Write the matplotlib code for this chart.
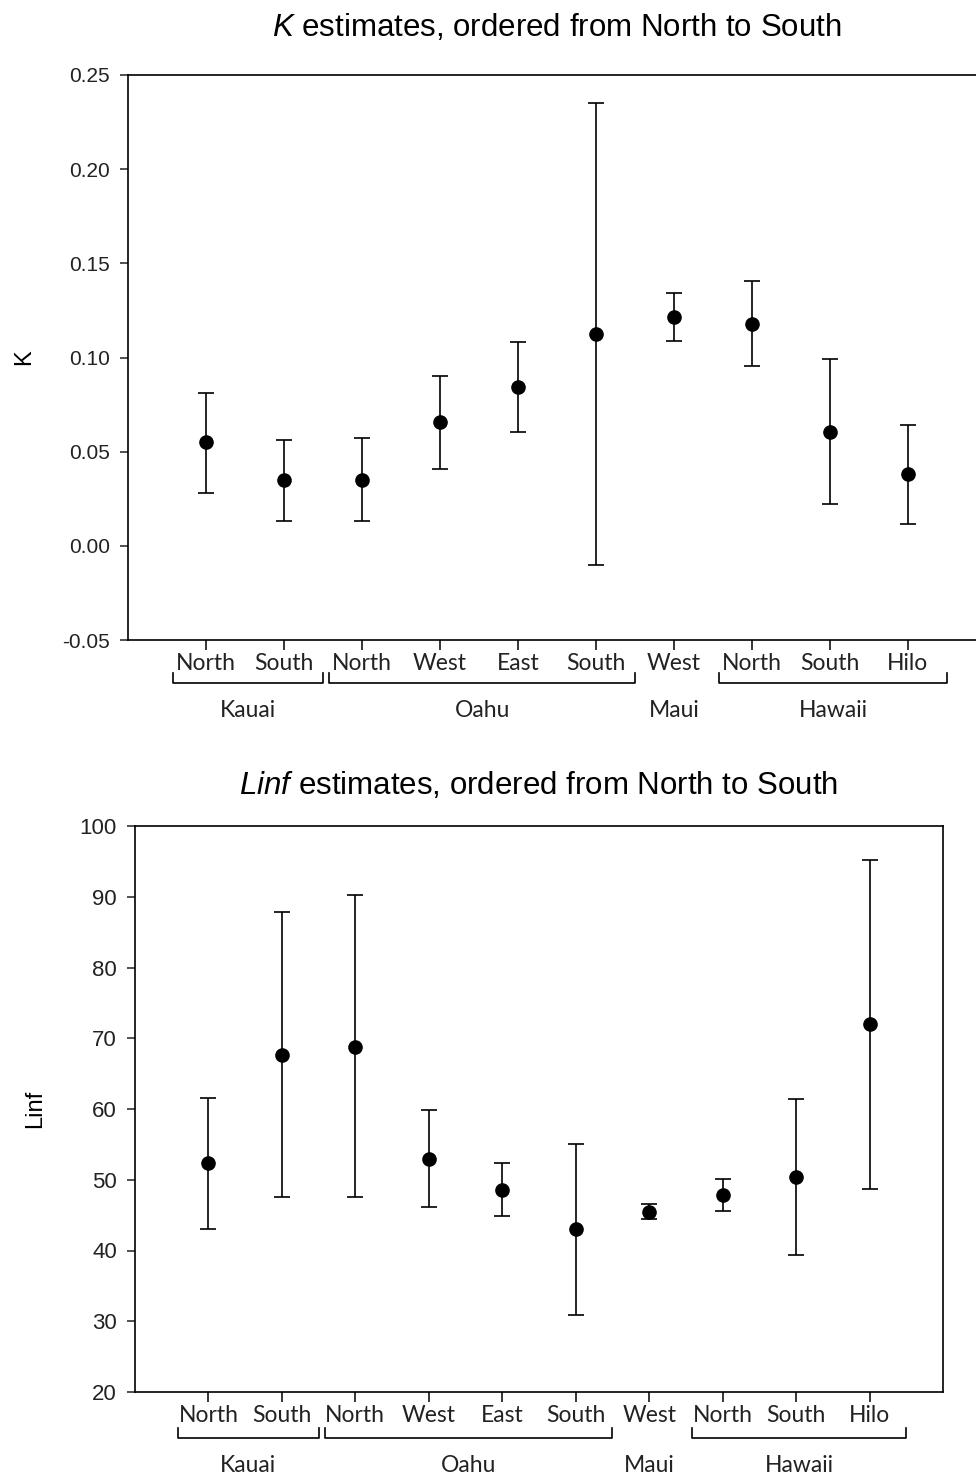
import matplotlib
matplotlib.use("Agg")
import matplotlib.pyplot as plt
import matplotlib.transforms as mtransforms

plt.rcParams['font.family'] = ['Liberation Sans', 'DejaVu Sans']
plt.rcParams['mathtext.fontset'] = 'custom'
plt.rcParams['mathtext.rm'] = 'Liberation Sans'
plt.rcParams['mathtext.it'] = 'Liberation Sans:italic'

# sites, ordered from north to south
sites = ['North', 'South', 'North', 'West', 'East', 'South', 'West', 'North', 'South', 'Hilo']
islands = ['Kauai', 'Kauai', 'Oahu', 'Oahu', 'Oahu', 'Oahu', 'Maui', 'Hawaii', 'Hawaii', 'Hawaii']

# K estimates with lower / upper bounds
k_est = [0.0551, 0.0350, 0.0350, 0.0657, 0.0846, 0.1126, 0.1216, 0.1180, 0.0607, 0.0381]
k_low = [0.0283, 0.0131, 0.0131, 0.0410, 0.0607, -0.0101, 0.1090, 0.0956, 0.0221, 0.0115]
k_high = [0.0812, 0.0563, 0.0570, 0.0903, 0.1080, 0.2351, 0.1342, 0.1404, 0.0991, 0.0643]

# Linf estimates with lower / upper bounds
linf_est = [52.3, 67.6, 68.8, 53.0, 48.6, 43.0, 45.5, 47.8, 50.4, 72.0]
linf_low = [43.0, 47.5, 47.5, 46.1, 44.9, 30.9, 44.4, 45.6, 39.4, 48.7]
linf_high = [61.5, 87.8, 90.2, 59.9, 52.3, 55.1, 46.6, 50.1, 61.4, 95.2]

x = list(range(1, len(sites) + 1))


def draw_panel(ax, est, low, high, ylabel, title, title_pad, yticks, ylim,
               ytick_size, bracket_y, label_y):
    yerr = [[e - l for e, l in zip(est, low)], [h - e for e, h in zip(est, high)]]
    ax.errorbar(x, est, yerr=yerr, fmt='o', color='black', ms=9.5,
                ecolor='black', elinewidth=1.2, capsize=6, capthick=1.2)
    ax.set_xlim(0, 11)
    ax.set_ylim(*ylim)
    ax.set_yticks(yticks)
    ax.tick_params(axis='y', direction='out', length=6, width=1.1,
                   labelsize=ytick_size, pad=7, colors='#222222')
    ax.set_xticks(x)
    ax.set_xticklabels(sites, fontfamily='Lato', fontsize=16.5, color='#222222')
    ax.tick_params(axis='x', direction='out', length=7, width=1.1, pad=2)
    for s in ax.spines.values():
        s.set_linewidth(1.2)
    ax.set_ylabel(ylabel, fontsize=17)
    ax.set_title(title, fontsize=22.5, pad=title_pad)

    # island brackets under the site labels
    trans = mtransforms.blended_transform_factory(ax.transData, ax.transAxes)
    groups = []
    for i, isl in enumerate(islands):
        if groups and groups[-1][0] == isl:
            groups[-1][2] = x[i]
        else:
            groups.append([isl, x[i], x[i]])
    for isl, first, last in groups:
        x0, x1 = first - 0.42, last + 0.5
        if last > first:
            ax.plot([x0, x0, x1, x1], [bracket_y + 0.017, bracket_y, bracket_y, bracket_y + 0.017],
                    color='black', lw=1.2, transform=trans, clip_on=False)
            cx = (x0 + x1) / 2
        else:
            cx = first
        ax.text(cx, label_y, isl, transform=trans, ha='center', va='center',
                fontfamily='Lato', fontsize=16.5, color='#222222')


fig = plt.figure(figsize=(9.76, 14.79), dpi=100)

ax1 = fig.add_axes([128 / 976, 839 / 1479, 858 / 976, 565 / 1479])
draw_panel(ax1, k_est, k_low, k_high, 'K',
           r'$\mathit{K}$ estimates, ordered from North to South', 28,
           [-0.05, 0.00, 0.05, 0.10, 0.15, 0.20, 0.25], (-0.05, 0.25), 15, -0.076, -0.124)
ax1.yaxis.set_major_formatter(matplotlib.ticker.FormatStrFormatter('%.2f'))
ax1.spines['right'].set_visible(False)
ax1.yaxis.set_label_coords(-0.108, 0.5)

ax2 = fig.add_axes([135 / 976, 87 / 1479, 808 / 976, 566 / 1479])
draw_panel(ax2, linf_est, linf_low, linf_high, 'Linf',
           r'$\mathit{Linf}$ estimates, ordered from North to South', 23,
           [20, 30, 40, 50, 60, 70, 80, 90, 100], (20, 100), 16, -0.081, -0.129)
ax2.yaxis.set_label_coords(-0.11, 0.5)

fig.savefig('out.png', dpi=100)
